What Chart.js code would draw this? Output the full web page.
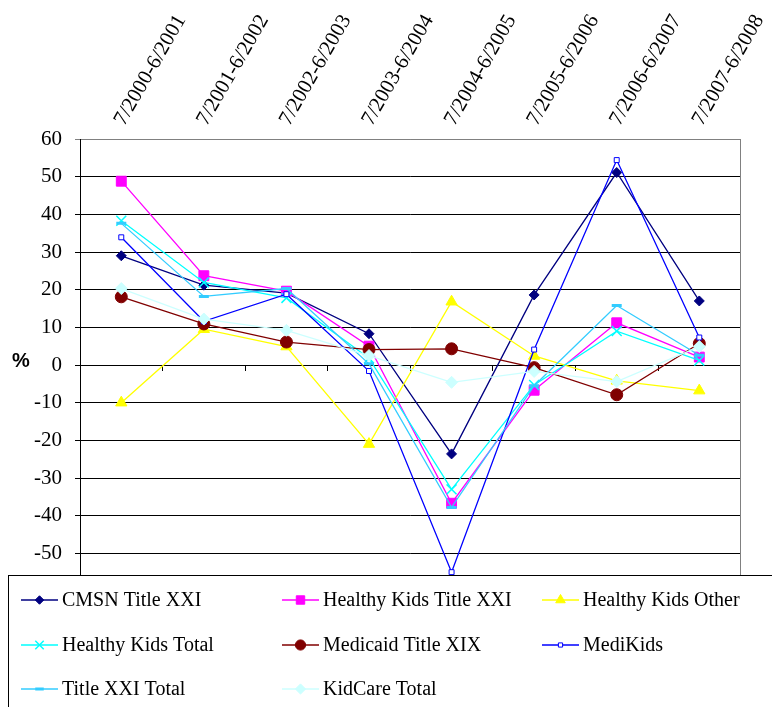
<!DOCTYPE html>
<html>
<head>
<meta charset="utf-8">
<title>KidCare enrollment change</title>
<script src="https://cdn.jsdelivr.net/npm/chart.js@4.4.1/dist/chart.umd.min.js"></script>
<style>
  html, body { margin: 0; padding: 0; background: #fff; }
  canvas { display: block; }
</style>
</head>
<body>
<canvas id="chart" width="772" height="707"></canvas>
<script>
// Data (percent change per year)
const periods = ["7/2000-6/2001", "7/2001-6/2002", "7/2002-6/2003", "7/2003-6/2004",
                 "7/2004-6/2005", "7/2005-6/2006", "7/2006-6/2007", "7/2007-6/2008"];
const cmsnTitleXXI        = [29, 21.2, 19.1, 8.3, -23.6, 18.6, 51.1, 17];
const healthyKidsTitleXXI = [48.8, 23.7, 19.6, 5, -36.7, -6.7, 11.2, 2.1];
const healthyKidsOther    = [-10, 9.5, 4.9, -21, 16.8, 2.4, -4.2, -6.8];
const healthyKidsTotal    = [38.3, 21.9, 17.8, 1.8, -33, -5.3, 9, 1.2];
const medicaidTitleXIX    = [18.1, 10.9, 6.1, 4.1, 4.3, -0.7, -7.9, 5.7];
const mediKids            = [33.9, 11.6, 18.8, -1.6, -55, 4.1, 54.4, 7.3];
const titleXXITotal       = [37.6, 18.2, 20.3, 0.3, -37.8, -5.5, 15.8, 2.6];
const kidCareTotal        = [20.3, 12.2, 9.2, 2.5, -4.6, -1.7, -4.4, 4.9];
const yMin = -60, yMax = 60, yStep = 10;

// one line series, Excel style
function series(label, data, color, style, radius, fill, borderW) {
    return {
        label: label,
        data: data,
        borderColor: color,
        backgroundColor: color,
        borderWidth: 1.3,
        pointStyle: style,
        pointRadius: radius,
        pointBackgroundColor: fill,
        pointBorderColor: color,
        pointBorderWidth: borderW,
        tension: 0,
        fill: false
    };
}

const datasets = [
    series("CMSN Title XXI", cmsnTitleXXI, "#000080", "rectRot", 5, "#000080", 1),
    series("Healthy Kids Title XXI", healthyKidsTitleXXI, "#FF00FF", "rect", 7, "#FF00FF", 1),
    series("Healthy Kids Other", healthyKidsOther, "#FFFF00", "triangle", 6.5, "#FFFF00", 1),
    series("Healthy Kids Total", healthyKidsTotal, "#00FFFF", "crossRot", 7, "#00FFFF", 1.5),
    series("Medicaid Title XIX", medicaidTitleXIX, "#800000", "circle", 6, "#800000", 1),
    series("MediKids", mediKids, "#0000FF", "rect", 3.5, "#FFFFFF", 1),
    series("Title XXI Total", titleXXITotal, "#33CCFF", "line", 5, "#33CCFF", 3),
    series("KidCare Total", kidCareTotal, "#CCFFFF", "rectRot", 6, "#CCFFFF", 1)
];
// later series on top, as in Excel
datasets.forEach((ds, i) => { ds.order = datasets.length - i; });

// legend box over the bottom of the plot, plus the horizontal "%" title
const excelLegend = {
    id: "excelLegend",
    afterDraw(chart) {
        const ctx = chart.ctx;
        ctx.save();
        ctx.fillStyle = "#fff";
        ctx.fillRect(8, 575, 800, 200);
        ctx.strokeStyle = "#000";
        ctx.lineWidth = 1;
        ctx.strokeRect(8.5, 575.5, 800, 200);

        const cols = [21, 282, 542];
        const rows = [600, 645, 689];
        ctx.font = '20px "Liberation Serif"';
        ctx.textBaseline = "middle";
        ctx.textAlign = "left";
        chart.data.datasets.forEach((ds, i) => {
            const x = cols[i % 3];
            const y = rows[Math.floor(i / 3)];
            ctx.strokeStyle = ds.borderColor;
            ctx.lineWidth = 1.5;
            ctx.beginPath();
            ctx.moveTo(x, y);
            ctx.lineTo(x + 37, y);
            ctx.stroke();
            ctx.fillStyle = ds.pointBackgroundColor;
            ctx.strokeStyle = ds.pointBorderColor;
            ctx.lineWidth = ds.pointBorderWidth;
            Chart.helpers.drawPoint(ctx, {
                pointStyle: ds.pointStyle,
                radius: ds.pointRadius * 0.85,
                rotation: 0,
                borderWidth: ds.pointBorderWidth
            }, x + 18.5, y);
            ctx.fillStyle = "#000";
            ctx.fillText(ds.label, x + 41, y + 1);
        });

        const yZero = chart.scales.y.getPixelForValue(0);
        ctx.font = 'bold 20px "Liberation Sans"';
        ctx.fillStyle = "#000";
        ctx.fillText("%", 12, yZero - 4);
        ctx.restore();
    }
};

const ctx = document.getElementById("chart").getContext("2d");
new Chart(ctx, {
    type: "line",
    data: { labels: periods, datasets: datasets },
    plugins: [excelLegend],
    options: {
        responsive: false,
        animation: false,
        layout: { padding: { left: 0, right: 30, top: 0, bottom: 116 } },
        plugins: {
            legend: { display: false },
            tooltip: { enabled: false }
        },
        scales: {
            x: {
                position: "top",
                offset: true,
                grid: { display: false, drawTicks: false },
                border: { display: true, color: "#808080" },
                ticks: {
                    autoSkip: false,
                    maxRotation: 60,
                    minRotation: 60,
                    padding: 9,
                    labelOffset: 20,
                    color: "#000",
                    font: { family: "Liberation Serif", size: 21 }
                },
                afterFit(scale) { scale.height = 139; }
            },
            // category axis crossing at 0, only the small tick marks
            x2: {
                type: "category",
                labels: periods,
                position: { y: 0 },
                offset: true,
                grid: { drawOnChartArea: false, offset: true, tickLength: 5, color: "#000" },
                border: { display: true, color: "#000" },
                ticks: { display: false },
                afterFit(scale) { scale.height = 0; }
            },
            y: {
                min: yMin,
                max: yMax,
                ticks: {
                    stepSize: yStep,
                    padding: 13,
                    color: "#000",
                    font: { family: "Liberation Serif", size: 21 }
                },
                grid: {
                    tickLength: 5,
                    color: (c) => (c.tick && c.tick.value === yMax ? "#808080" : "#000")
                },
                border: { color: "#000" },
                afterFit(scale) { scale.width = 80; }
            },
            y2: {
                position: "right",
                min: yMin,
                max: yMax,
                ticks: { display: false },
                grid: { display: false, drawTicks: false },
                border: { display: true, color: "#808080" },
                afterFit(scale) { scale.width = 0; }
            }
        }
    }
});
</script>
</body>
</html>
